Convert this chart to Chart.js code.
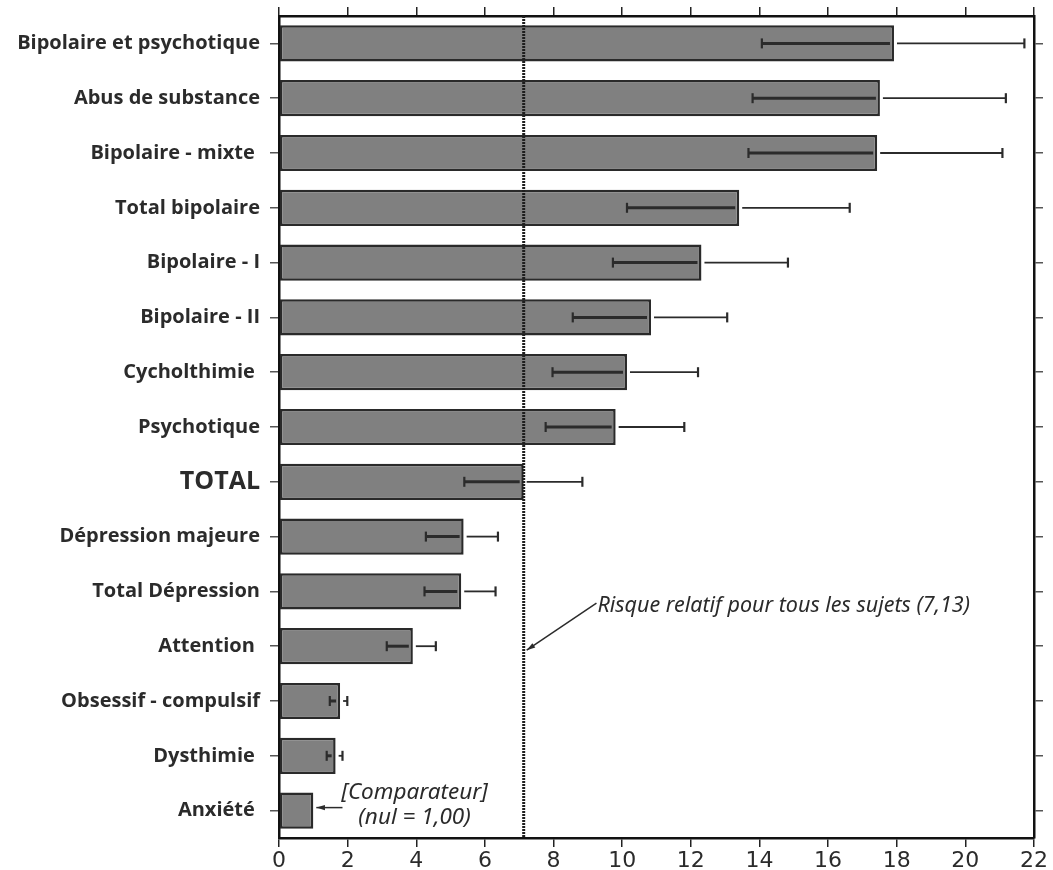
<!DOCTYPE html>
<html>
<head>
<meta charset="utf-8">
<script src="https://cdn.jsdelivr.net/npm/chart.js@4/dist/chart.umd.min.js"></script>
<style>
  body { margin: 0; background: #fff; }
  #wrap { width: 1053px; height: 870px; }
</style>
</head>
<body>
<div id="wrap"><canvas id="rr-chart" width="1053" height="870"></canvas></div>
<script>
// Categories, top to bottom
const labels = [
    'Bipolaire et psychotique', 'Abus de substance', 'Bipolaire - mixte ', 'Total bipolaire',
    'Bipolaire - I', 'Bipolaire - II', 'Cycholthimie ', 'Psychotique', 'TOTAL',
    'Dépression majeure', 'Total Dépression', 'Attention ', 'Obsessif - compulsif',
    'Dysthimie ', 'Anxiété '
];
// Relative risk and confidence interval
const riskValues = [17.92, 17.51, 17.43, 13.41, 12.31, 10.84, 10.14, 9.81, 7.13, 5.38, 5.31, 3.90, 1.78, 1.65, 1.00];
const lowerCI = [14.07, 13.80, 13.68, 10.14, 9.73, 8.56, 7.97, 7.77, 5.40, 4.28, 4.24, 3.14, 1.48, 1.39, null];
const upperCI = [21.72, 21.18, 21.08, 16.63, 14.83, 13.06, 12.21, 11.81, 8.84, 6.38, 6.31, 4.57, 1.99, 1.85, null];
const overallRisk = 7.13;
const xMin = 0, xMax = 22, xStep = 2;

const ink = '#2b2b2b';

function line(ctx, x1, y1, x2, y2) {
    ctx.beginPath();
    ctx.moveTo(x1, y1);
    ctx.lineTo(x2, y2);
    ctx.stroke();
}

function arrow(ctx, x1, y1, x2, y2) {
    line(ctx, x1, y1, x2, y2);
    const a = Math.atan2(y2 - y1, x2 - x1);
    ctx.beginPath();
    ctx.moveTo(x2, y2);
    ctx.lineTo(x2 - 9 * Math.cos(a - 0.3), y2 - 9 * Math.sin(a - 0.3));
    ctx.lineTo(x2 - 9 * Math.cos(a + 0.3), y2 - 9 * Math.sin(a + 0.3));
    ctx.closePath();
    ctx.fill();
}

// Error bars, reference line and the two notes
const extras = {
    id: 'extras',
    afterDatasetsDraw(chart) {
        const { ctx, chartArea, scales: { x, y } } = chart;
        ctx.save();
        ctx.strokeStyle = ink;
        ctx.fillStyle = ink;

        // dotted line at overall risk
        const xr = x.getPixelForValue(overallRisk);
        ctx.lineWidth = 3;
        ctx.strokeStyle = '#1e1e1e';
        ctx.setLineDash([2, 1]);
        line(ctx, xr, chartArea.top, xr, chartArea.bottom);
        ctx.setLineDash([]);
        ctx.strokeStyle = ink;

        riskValues.forEach((v, i) => {
            if (lowerCI[i] == null) return;
            const cy = y.getPixelForValue(i);
            const xl = x.getPixelForValue(lowerCI[i]);
            const xv = x.getPixelForValue(v);
            const xu = x.getPixelForValue(upperCI[i]);
            ctx.lineWidth = 3;
            line(ctx, xl, cy, xv - 4, cy);
            ctx.lineWidth = 1.8;
            line(ctx, xv + 3, cy, xu, cy);
            ctx.lineWidth = 2.2;
            line(ctx, xl, cy - 5, xl, cy + 5);
            line(ctx, xu, cy - 5, xu, cy + 5);
        });

        // note: overall relative risk
        const yAtt = y.getPixelForValue(11);
        const xNote = x.getPixelForValue(9.25);
        ctx.lineWidth = 1.5;
        arrow(ctx, xNote, yAtt - 43, xr + 3, yAtt + 4);
        ctx.font = 'italic 21.5px "Noto Sans"';
        ctx.textAlign = 'left';
        ctx.textBaseline = 'middle';
        ctx.fillText('Risque relatif pour tous les sujets (7,13)', xNote + 1, yAtt - 40);

        // note: comparator
        const yAnx = y.getPixelForValue(14);
        const xCmp = x.getPixelForValue(3.95);
        ctx.font = 'italic 22.5px "Noto Sans"';
        ctx.textAlign = 'center';
        ctx.fillText('[Comparateur]', xCmp, yAnx - 18);
        ctx.fillText('(nul = 1,00)', xCmp, yAnx + 7);
        arrow(ctx, x.getPixelForValue(1.85), yAnx - 3, x.getPixelForValue(1.0) + 3, yAnx - 3);

        ctx.restore();
    }
};

const ctx = document.getElementById('rr-chart').getContext('2d');

new Chart(ctx, {
    type: 'bar',
    data: {
        labels,
        datasets: [{
            data: riskValues,
            backgroundColor: '#808080',
            borderColor: '#2a2a2a',
            borderWidth: 2.5,
            borderSkipped: false,
            barPercentage: 0.66,
            categoryPercentage: 1
        }]
    },
    options: {
        indexAxis: 'y',
        responsive: false,
        animation: false,
        layout: { padding: 0 },
        plugins: { legend: { display: false }, tooltip: { enabled: false } },
        scales: {
            x: {
                position: 'bottom',
                min: xMin, max: xMax,
                ticks: { stepSize: xStep, color: ink, padding: 1, font: { family: 'DejaVu Sans', size: 22 } },
                grid: { drawOnChartArea: false, tickLength: 9, color: '#222', lineWidth: 1.5 },
                border: { color: '#111', width: 2.5 },
                afterFit: s => { s.height = 32; s.paddingLeft = 0; s.paddingRight = 0; }
            },
            x2: {
                position: 'top',
                min: xMin, max: xMax,
                ticks: { stepSize: xStep, display: false },
                grid: { drawOnChartArea: false, tickLength: 9, color: '#222', lineWidth: 1.5 },
                border: { color: '#111', width: 2.5 },
                afterFit: s => { s.height = 16; }
            },
            y: {
                position: 'left',
                offset: true,
                ticks: {
                    color: ink,
                    padding: 10,
                    font: c => c.index === 8
                        ? { family: 'Open Sans', size: 25, weight: 'bold' }
                        : { family: 'Open Sans', size: 20, weight: 'bold' }
                },
                grid: { offset: false, drawOnChartArea: false, tickLength: 9, color: '#555', lineWidth: 1.5 },
                border: { color: '#111', width: 2.5 },
                afterFit: s => { s.width = 279; s.paddingTop = 0; s.paddingBottom = 0; }
            },
            y2: {
                position: 'right',
                type: 'category',
                labels,
                offset: true,
                ticks: { display: false },
                grid: { offset: false, drawOnChartArea: false, tickLength: 9, color: '#555', lineWidth: 1.5 },
                border: { color: '#111', width: 2.5 },
                afterFit: s => { s.width = 19; s.paddingTop = 0; s.paddingBottom = 0; }
            }
        }
    },
    plugins: [extras]
});
</script>
</body>
</html>
